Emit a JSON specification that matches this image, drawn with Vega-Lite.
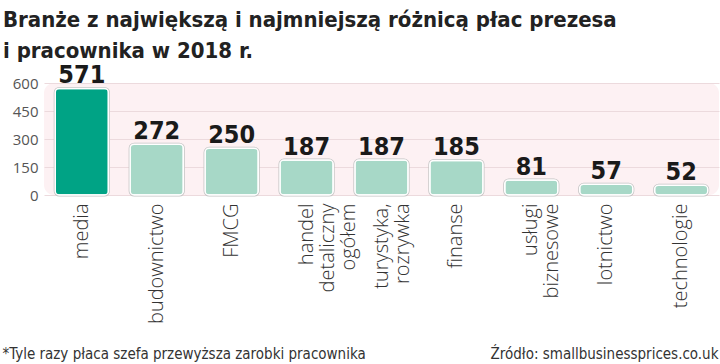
{
  "$schema": "https://vega.github.io/schema/vega-lite/v6.json",
  "autosize": {"type": "none"},
  "width": 675,
  "height": 112,
  "padding": {"left": 44, "top": 83, "right": 1, "bottom": 169},
  "background": "#ffffff",
  "view": {"fill": "#fdf1f3", "stroke": null, "cornerRadius": 10},
  "title": {
    "text": ["Branże z największą i najmniejszą różnicą płac prezesa", "i pracownika w 2018 r."],
    "anchor": "start",
    "frame": "group",
    "font": "DejaVu Sans Condensed",
    "fontWeight": "bold",
    "fontSize": 22,
    "lineHeight": 31,
    "color": "#222222",
    "dx": -41,
    "dy": 24,
    "offset": 24
  },
  "data": {
    "values": [
      {"branza": "media", "wartosc": 571, "grupa": "max"},
      {"branza": "budownictwo", "wartosc": 272, "grupa": "inne"},
      {"branza": "FMCG", "wartosc": 250, "grupa": "inne"},
      {"branza": "handel\ndetaliczny\nogółem", "wartosc": 187, "grupa": "inne"},
      {"branza": "turystyka,\nrozrywka", "wartosc": 187, "grupa": "inne"},
      {"branza": "finanse", "wartosc": 185, "grupa": "inne"},
      {"branza": "usługi\nbiznesowe", "wartosc": 81, "grupa": "inne"},
      {"branza": "lotnictwo", "wartosc": 57, "grupa": "inne"},
      {"branza": "technologie", "wartosc": 52, "grupa": "inne"}
    ]
  },
  "encoding": {
    "x": {
      "field": "branza",
      "type": "nominal",
      "sort": null,
      "scale": {"paddingInner": 0.29, "paddingOuter": 0.15},
      "axis": {
        "title": "*Tyle razy płaca szefa przewyższa zarobki pracownika",
        "titleFont": "DejaVu Sans Condensed",
        "titleFontWeight": "normal",
        "titleFontSize": 15,
        "titleColor": "#333333",
        "titleAnchor": "start",
        "titleAlign": "left",
        "titleBaseline": "alphabetic",
        "titleX": -42,
        "titleY": 163,
        "labelAngle": -90,
        "labelAlign": "right",
        "labelBaseline": "middle",
        "labelFont": "Open Sans",
        "labelFontWeight": 300,
        "labelFontSize": 20,
        "labelLineHeight": 21,
        "labelColor": "#333333",
        "labelPadding": 8,
        "labelExpr": "split(datum.label, '\\n')",
        "ticks": false,
        "domain": false
      }
    },
    "y": {
      "field": "wartosc",
      "type": "quantitative",
      "scale": {"domain": [0, 600], "nice": false},
      "axis": {
        "values": [0, 150, 300, 450, 600],
        "title": "Źródło: smallbusinessprices.co.uk",
        "titleFont": "DejaVu Sans Condensed",
        "titleFontWeight": "normal",
        "titleFontSize": 15,
        "titleColor": "#333333",
        "titleAngle": 0,
        "titleAnchor": null,
        "titleAlign": "right",
        "titleBaseline": "alphabetic",
        "titleX": 674,
        "titleY": 275,
        "labelFont": "Open Sans",
        "labelFontSize": 15,
        "labelColor": "#555555",
        "labelPadding": 6,
        "ticks": false,
        "domain": false,
        "gridColor": "#ecdadd",
        "gridWidth": 1
      }
    }
  },
  "layer": [
    {
      "mark": {"type": "bar", "cornerRadius": 4, "stroke": "#c4c4c4", "strokeWidth": 3},
      "encoding": {
        "color": {
          "field": "grupa",
          "type": "nominal",
          "scale": {"domain": ["max", "inne"], "range": ["#00a385", "#a7d8c7"]},
          "legend": null
        }
      }
    },
    {
      "mark": {"type": "bar", "cornerRadius": 4, "stroke": "#ffffff", "strokeWidth": 1.5},
      "encoding": {
        "color": {
          "field": "grupa",
          "type": "nominal",
          "scale": {"domain": ["max", "inne"], "range": ["#00a385", "#a7d8c7"]},
          "legend": null
        }
      }
    },
    {
      "mark": {"type": "text", "baseline": "alphabetic", "dy": -5, "font": "DejaVu Sans Condensed", "fontWeight": "bold", "fontSize": 25, "color": "#1a1a1a"},
      "encoding": {
        "text": {"field": "wartosc", "type": "quantitative"}
      }
    }
  ]
}
